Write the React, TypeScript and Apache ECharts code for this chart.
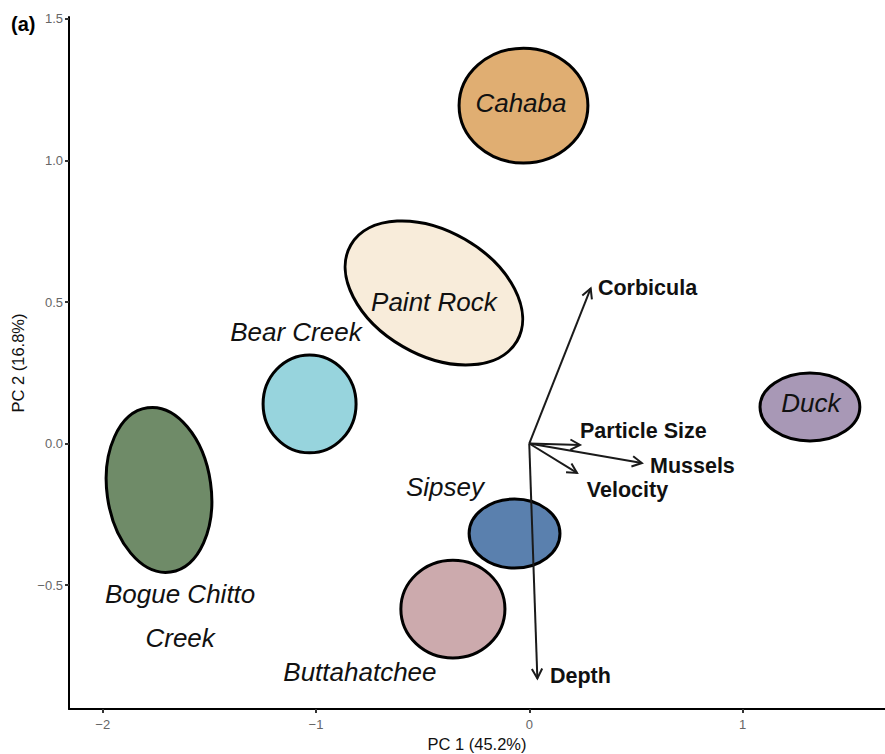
import React, { useEffect, useRef } from "react";
import * as echarts from "echarts";

// Axis extents and ticks
const xRange = [-2.158, 1.668];
const yRange = [-0.938, 1.507];
const xTicks = [-2, -1, 0, 1];
const yTicks = [-0.5, 0, 0.5, 1, 1.5];

// Site ellipses (PC1, PC2 centres, semi-axes in axis units, tilt in degrees)
const sites = ["Cahaba", "Paint Rock", "Bear Creek", "Bogue Chitto Creek", "Duck", "Sipsey", "Buttahatchee"];
const siteX = [-0.027, -0.447, -1.03, -1.736, 1.316, -0.069, -0.358];
const siteY = [1.194, 0.532, 0.14, -0.164, 0.129, -0.318, -0.585];
const siteRx = [0.302, 0.45, 0.218, 0.244, 0.234, 0.213, 0.244];
const siteRy = [0.203, 0.219, 0.173, 0.293, 0.12, 0.122, 0.173];
const siteTilt = [0, -30, 0, 8, 0, 0, 0];
const siteFill = ["#E0AE72", "#F8ECDA", "#97D4DD", "#6F8B68", "#A898B6", "#5A80AE", "#CCAAAD"];

// Site label text and positions
const siteLabels = ["Cahaba", "Paint Rock", "Bear Creek", "Bogue Chitto\nCreek", "Duck", "Sipsey", "Buttahatchee"];
const siteLabelX = [-0.039, -0.447, -1.094, -1.637, 1.32, -0.395, -0.794];
const siteLabelY = [1.203, 0.5, 0.394, -0.609, 0.143, -0.155, -0.807];

// Environmental loading vectors
const vectors = ["Corbicula", "Particle Size", "Mussels", "Velocity", "Depth"];
const vectorX = [0.288, 0.238, 0.528, 0.224, 0.038];
const vectorY = [0.548, -0.005, -0.069, -0.104, -0.83];
const vectorLabelX = [0.322, 0.238, 0.566, 0.27, 0.097];
const vectorLabelY = [0.548, 0.044, -0.08, -0.164, -0.823];

const FONT = '"Liberation Sans", Arial, Helvetica, sans-serif';

const minus = (s: string) => s.replace("-", "\u2212");

export default function App() {
  const ref = useRef<HTMLDivElement>(null);

  useEffect(() => {
    if (!ref.current) return;
    const chart = echarts.init(ref.current, null, { renderer: "svg" });

    const ellipseData = sites.map((name, i) => [siteX[i], siteY[i], siteRx[i], siteRy[i], siteTilt[i], i]);
    const vectorData = vectors.map((name, i) => [vectorX[i], vectorY[i], i]);
    const siteLabelData = siteLabels.map((t, i) => [siteLabelX[i], siteLabelY[i], i]);
    const vectorLabelData = vectors.map((t, i) => [vectorLabelX[i], vectorLabelY[i], i]);

    const axisCommon = {
      type: "value" as const,
      splitLine: { show: false },
      axisLine: { show: true, onZero: false, lineStyle: { color: "#000", width: 2 } },
      axisTick: { show: true, length: 4, lineStyle: { color: "#333", width: 2 } },
      nameTextStyle: { fontFamily: FONT, fontSize: 16.5, color: "#111" },
    };

    chart.setOption({
      animation: false,
      backgroundColor: "#fff",
      grid: { left: 69, right: 0, top: 17, bottom: 45, containLabel: false, outerBoundsMode: "none" },
      xAxis: {
        ...axisCommon,
        min: xRange[0],
        max: xRange[1],
        name: "PC 1 (45.2%)",
        nameLocation: "middle",
        nameGap: 25,
        axisTick: { ...axisCommon.axisTick, customValues: xTicks },
        axisLabel: {
          customValues: xTicks,
          formatter: (v: number) => minus(String(v)),
          fontFamily: FONT,
          fontSize: 13,
          color: "#666",
          margin: 9,
        },
      },
      yAxis: {
        ...axisCommon,
        min: yRange[0],
        max: yRange[1],
        name: "PC 2 (16.8%)",
        nameLocation: "middle",
        nameGap: 39,
        nameRotate: 90,
        axisTick: { ...axisCommon.axisTick, customValues: yTicks },
        axisLabel: {
          customValues: yTicks,
          formatter: (v: number) => minus(v.toFixed(1)),
          fontFamily: FONT,
          fontSize: 13,
          color: "#666",
          margin: 6,
        },
      },
      graphic: [
        {
          type: "text",
          left: 11,
          top: 14,
          style: { text: "(a)", font: `bold 20px ${FONT}`, fill: "#000" },
        },
      ],
      series: [
        {
          type: "custom",
          name: "sites",
          coordinateSystem: "cartesian2d",
          data: ellipseData,
          clip: false,
          renderItem: (params: any, api: any) => {
            const c = api.coord([api.value(0), api.value(1)]);
            const s = api.size([api.value(2), api.value(3)]);
            const idx = api.value(5);
            return {
              type: "ellipse",
              x: c[0],
              y: c[1],
              rotation: (api.value(4) * Math.PI) / 180,
              shape: { cx: 0, cy: 0, rx: s[0], ry: s[1] },
              style: { fill: siteFill[idx], stroke: "#000", lineWidth: 3 },
            };
          },
          z: 2,
        },
        {
          type: "custom",
          name: "vectors",
          coordinateSystem: "cartesian2d",
          data: vectorData,
          clip: false,
          renderItem: (params: any, api: any) => {
            const o = api.coord([0, 0]);
            const t = api.coord([api.value(0), api.value(1)]);
            const ang = Math.atan2(t[1] - o[1], t[0] - o[0]);
            const headLen = 11;
            const spread = (28 * Math.PI) / 180;
            const p1 = [t[0] - headLen * Math.cos(ang - spread), t[1] - headLen * Math.sin(ang - spread)];
            const p2 = [t[0] - headLen * Math.cos(ang + spread), t[1] - headLen * Math.sin(ang + spread)];
            const stroke = { stroke: "#1a1a1a", lineWidth: 2, fill: "none" };
            return {
              type: "group",
              children: [
                { type: "line", shape: { x1: o[0], y1: o[1], x2: t[0], y2: t[1] }, style: stroke },
                { type: "polyline", shape: { points: [p1, t, p2] }, style: stroke },
              ],
            };
          },
          z: 3,
        },
        {
          type: "custom",
          name: "siteLabels",
          coordinateSystem: "cartesian2d",
          data: siteLabelData,
          clip: false,
          renderItem: (params: any, api: any) => {
            const c = api.coord([api.value(0), api.value(1)]);
            const idx = api.value(2);
            return {
              type: "text",
              x: c[0],
              y: c[1],
              style: {
                text: siteLabels[idx],
                font: `italic 26px ${FONT}`,
                fill: "#111",
                align: "center",
                verticalAlign: "middle",
                lineHeight: 44,
              },
            };
          },
          z: 4,
        },
        {
          type: "custom",
          name: "vectorLabels",
          coordinateSystem: "cartesian2d",
          data: vectorLabelData,
          clip: false,
          renderItem: (params: any, api: any) => {
            const c = api.coord([api.value(0), api.value(1)]);
            const idx = api.value(2);
            return {
              type: "text",
              x: c[0],
              y: c[1],
              style: {
                text: vectors[idx],
                font: `bold 21.5px ${FONT}`,
                fill: "#111",
                align: "left",
                verticalAlign: "middle",
              },
            };
          },
          z: 4,
        },
      ],
    });

    return () => chart.dispose();
  }, []);

  return (
    <div
      ref={ref}
      style={{ position: "fixed", left: 0, top: 0, width: 885, height: 754, background: "#fff" }}
    />
  );
}
